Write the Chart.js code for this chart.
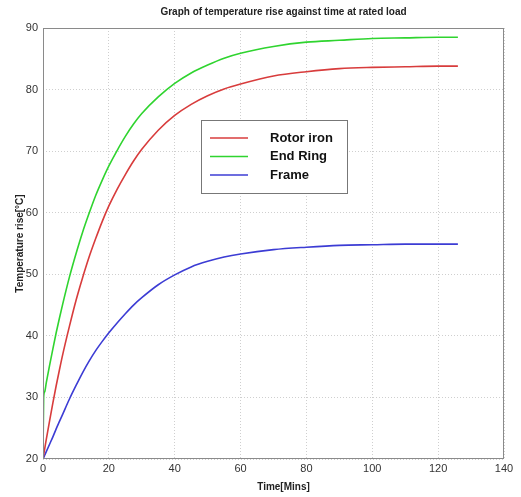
<!DOCTYPE html>
<html>
<head>
<meta charset="utf-8">
<script src="https://cdn.jsdelivr.net/npm/chart.js@4.4.1/dist/chart.umd.min.js"></script>
<style>
  html, body { margin: 0; padding: 0; background: #fff; }
  #grafico { display: block; }
</style>
</head>
<body>
<canvas id="grafico" width="521" height="497"></canvas>
<script>
// tiempos (min) y temperaturas
const tiempos = [0, 0.2, 0.5, 1, 2, 3, 4, 5, 6, 8, 10, 12, 14, 16, 18, 20, 22.5, 25, 27.5, 30, 35, 40, 45, 50, 55, 60, 70, 80, 90, 100, 110, 120, 126];
const rotorIron = [20, 20.7, 21.6, 23.2, 26.2, 29.1, 31.9, 34.5, 37.0, 41.5, 45.7, 49.4, 52.8, 55.8, 58.6, 61.1, 63.8, 66.2, 68.4, 70.3, 73.4, 75.8, 77.6, 79.0, 80.1, 80.9, 82.2, 82.9, 83.4, 83.6, 83.7, 83.8, 83.8];
const endRing = [20, 30, 30.9, 32.4, 35.2, 37.9, 40.5, 42.9, 45.2, 49.5, 53.3, 56.8, 59.9, 62.8, 65.3, 67.6, 70.1, 72.4, 74.4, 76.1, 78.8, 81.0, 82.7, 84.0, 85.1, 85.9, 87.0, 87.7, 88.0, 88.3, 88.4, 88.5, 88.5];
const frame = [20, 20.2, 20.6, 21.2, 22.4, 23.6, 24.9, 26.1, 27.3, 29.7, 31.9, 34.0, 35.9, 37.6, 39.1, 40.5, 42.1, 43.6, 45.0, 46.2, 48.3, 49.9, 51.2, 52.1, 52.8, 53.3, 54.0, 54.4, 54.7, 54.8, 54.9, 54.9, 54.9];

const etiquetas = ["Rotor iron", "End Ring", "Frame"];
const colores = ["#d83c3c", "#2fd42f", "#3c3cd4"];

const titulo = "Graph of temperature rise against time at rated load";
const tituloX = "Time[Mins]";
const tituloY = "Temperature rise[\u00b0C]";

const aPuntos = (valores) => valores.map((v, i) => ({ x: tiempos[i], y: v }));

const series = [rotorIron, endRing, frame];

const datasets = series.map((valores, i) => ({
  label: etiquetas[i],
  data: aPuntos(valores),
  borderColor: colores[i],
  backgroundColor: colores[i],
  borderWidth: 1.6,
  pointRadius: 0,
  cubicInterpolationMode: "monotone",
  showLine: true,
  fill: false,
}));

// titulo, ejes, marco y leyenda dibujados a mano (estilo matlab)
const decoracion = {
  id: "decoracion",
  afterDraw(chart) {
    const ctx = chart.ctx;
    const area = chart.chartArea;
    ctx.save();

    ctx.strokeStyle = "#8a8a8a";
    ctx.lineWidth = 1;
    ctx.strokeRect(area.left + 0.5, area.top + 0.5, area.right - area.left - 1, area.bottom - area.top - 1);

    ctx.fillStyle = "#222";
    ctx.font = "bold 10px 'Liberation Sans', Arial, sans-serif";
    ctx.textAlign = "center";
    ctx.textBaseline = "middle";
    ctx.fillText(titulo, (area.left + area.right) / 2 + 10, 12);

    ctx.fillText(tituloX, (area.left + area.right) / 2 + 10, 487);

    ctx.save();
    ctx.translate(20, (area.top + area.bottom) / 2);
    ctx.rotate(-Math.PI / 2);
    ctx.fillText(tituloY, 0, 0);
    ctx.restore();

    // leyenda
    const lx = 201, ly = 120, lw = 146, lh = 73;
    ctx.fillStyle = "#fff";
    ctx.fillRect(lx, ly, lw, lh);
    ctx.strokeStyle = "#777";
    ctx.strokeRect(lx + 0.5, ly + 0.5, lw, lh);
    ctx.font = "bold 13px 'Liberation Sans', Arial, sans-serif";
    ctx.textAlign = "left";
    chart.data.datasets.forEach((ds, i) => {
      const y = ly + 18 + i * 18.5;
      ctx.strokeStyle = ds.borderColor;
      ctx.lineWidth = 1.6;
      ctx.beginPath();
      ctx.moveTo(lx + 9, y);
      ctx.lineTo(lx + 47, y);
      ctx.stroke();
      ctx.fillStyle = "#111";
      ctx.fillText(ds.label, lx + 69, y);
    });

    ctx.restore();
  },
};

const fondo = {
  id: "fondo",
  beforeDraw(chart) {
    const ctx = chart.ctx;
    ctx.save();
    ctx.fillStyle = "#fff";
    ctx.fillRect(0, 0, chart.width, chart.height);
    ctx.restore();
  },
};

const config = {
  type: "line",
  data: { datasets },
  options: {
    responsive: false,
    animation: false,
    layout: { padding: { top: 28, right: 17, left: 0, bottom: 0 } },
    plugins: {
      legend: { display: false },
      title: { display: false },
      tooltip: { enabled: false },
    },
    scales: {
      x: {
        type: "linear",
        min: 0,
        max: 140,
        ticks: {
          stepSize: 20,
          padding: 3,
          color: "#333",
          font: { family: "'Liberation Sans', Arial, sans-serif", size: 11 },
        },
        grid: { color: "#cfcfcf", drawTicks: false },
        border: { display: false, dash: [1, 2] },
        afterFit(scale) { scale.height = 38; },
      },
      y: {
        min: 20,
        max: 90,
        ticks: {
          stepSize: 10,
          padding: 5,
          color: "#333",
          font: { family: "'Liberation Sans', Arial, sans-serif", size: 11 },
        },
        grid: { color: "#cfcfcf", drawTicks: false },
        border: { display: false, dash: [1, 2] },
        afterFit(scale) { scale.width = 43; },
      },
    },
  },
  plugins: [fondo, decoracion],
};

const myChart = new Chart(document.getElementById("grafico"), config);
</script>
</body>
</html>
